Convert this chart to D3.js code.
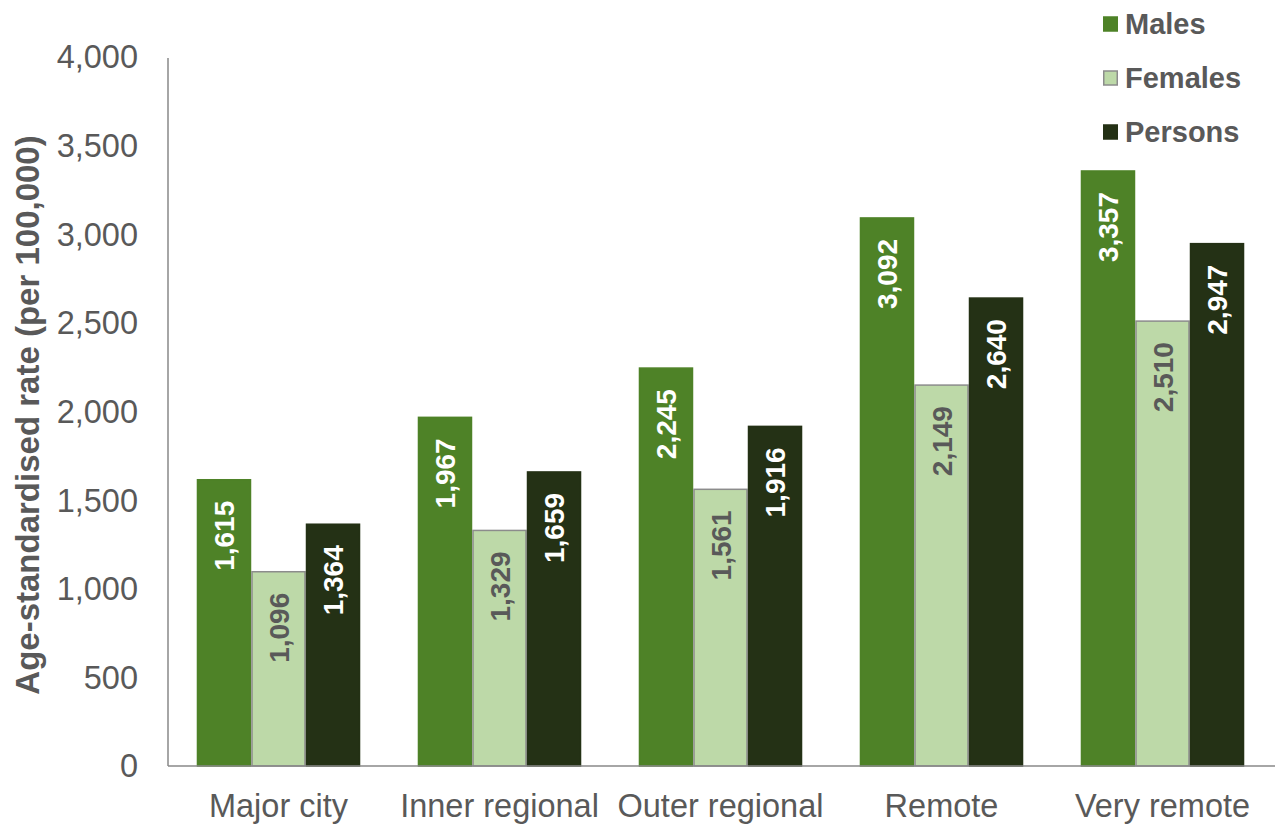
<!DOCTYPE html>
<html>
<head>
<meta charset="utf-8">
<script src="https://cdn.jsdelivr.net/npm/d3@7"></script>
<style>
  html, body { margin: 0; padding: 0; background: #fff; }
  svg { display: block; font-family: "Liberation Sans", Arial, sans-serif; }
</style>
</head>
<body>
<svg id="chart" width="1275" height="825"></svg>
<script>
// Remoteness areas
const categories = ["Major city", "Inner regional", "Outer regional", "Remote", "Very remote"];
const seriesNames = ["Males", "Females", "Persons"];
const males   = [1615, 1967, 2245, 3092, 3357];
const females = [1096, 1329, 1561, 2149, 2510];
const persons = [1364, 1659, 1916, 2640, 2947];
const yTicks  = [0, 500, 1000, 1500, 2000, 2500, 3000, 3500, 4000];
const yTitle  = "Age-standardised rate (per 100,000)";

(function () {
  const seriesValues = [males, females, persons];
  const fills   = ["#4e8227", "#bdd9a8", "#243115"];
  const strokes = ["#4e8227", "#8c8c8c", "#243115"];
  const labelColors = ["#ffffff", "#595959", "#ffffff"];
  const textGrey = "#595959";

  const svg = d3.select("#chart");
  const plotL = 168, plotR = 1273, plotT = 57, plotB = 766;

  const y = d3.scaleLinear().domain([0, 4000]).range([plotB, plotT]);
  const x0 = d3.scaleBand().domain(categories).range([plotL, plotR]).paddingInner(0).paddingOuter(0);
  const groupW = x0.bandwidth() * 0.74;
  const x1 = d3.scaleBand().domain(seriesNames).range([0, groupW]).padding(0);
  const fmt = d3.format(",");

  // y-axis tick labels
  svg.append("g").selectAll("text").data(yTicks).join("text")
    .attr("x", 138).attr("y", d => y(d)).attr("dy", "0.35em")
    .attr("text-anchor", "end").attr("font-size", 32.5).attr("fill", textGrey)
    .text(d => fmt(d));

  // y-axis title
  svg.append("text")
    .attr("transform", `translate(39,415) rotate(-90)`)
    .attr("text-anchor", "middle").attr("font-size", 33).attr("font-weight", "bold")
    .attr("fill", textGrey).text(yTitle);

  // bars
  const groups = svg.append("g").selectAll("g").data(categories).join("g")
    .attr("transform", c => `translate(${x0(c) + (x0.bandwidth() - groupW) / 2},0)`);

  seriesNames.forEach((s, si) => {
    groups.append("rect")
      .attr("x", x1(s) + 0.75).attr("width", x1.bandwidth() - 1.5)
      .attr("y", (c, i) => y(seriesValues[si][i]))
      .attr("height", (c, i) => plotB - y(seriesValues[si][i]))
      .attr("fill", fills[si]).attr("stroke", strokes[si]).attr("stroke-width", 1.5);

    groups.append("text")
      .attr("transform", (c, i) => `translate(${x1(s) + x1.bandwidth() / 2},${y(seriesValues[si][i]) + 21}) rotate(-90)`)
      .attr("dy", "0.36em").attr("text-anchor", "end")
      .attr("font-size", 28).attr("font-weight", "bold").attr("fill", labelColors[si])
      .text((c, i) => fmt(seriesValues[si][i]));
  });

  // axis lines
  svg.append("line").attr("x1", plotL).attr("x2", plotL).attr("y1", plotT + 1).attr("y2", plotB)
    .attr("stroke", "#898989").attr("stroke-width", 1.5);
  svg.append("line").attr("x1", plotL).attr("x2", 1275).attr("y1", plotB).attr("y2", plotB)
    .attr("stroke", "#898989").attr("stroke-width", 1.5);

  // category labels
  svg.append("g").selectAll("text").data(categories).join("text")
    .attr("x", c => x0(c) + x0.bandwidth() / 2).attr("y", 817)
    .attr("text-anchor", "middle").attr("font-size", 32.5).attr("fill", textGrey)
    .text(c => c);

  // legend
  const legend = svg.append("g").selectAll("g").data(seriesNames).join("g")
    .attr("transform", (s, i) => `translate(1103,${24 + i * 54})`);
  legend.append("rect").attr("x", 0.75).attr("y", -7).attr("width", 13.5).attr("height", 14)
    .attr("fill", (s, i) => fills[i]).attr("stroke", (s, i) => strokes[i]).attr("stroke-width", 1.5);
  legend.append("text").attr("x", 22).attr("dy", "0.36em")
    .attr("font-size", 29).attr("font-weight", "bold").attr("fill", textGrey)
    .text(s => s);
})();
</script>
</body>
</html>
